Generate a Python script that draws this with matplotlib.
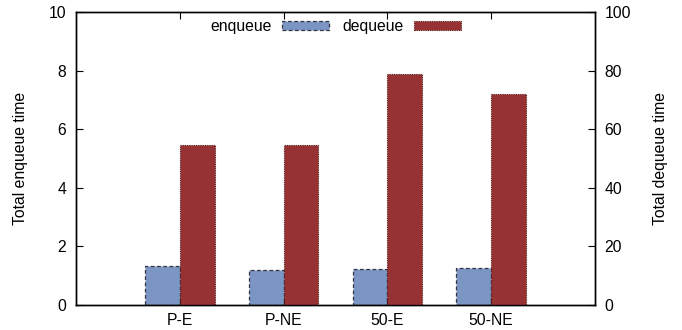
import numpy as np
import matplotlib
matplotlib.use("Agg")
import matplotlib.pyplot as plt

plt.rcParams['font.family'] = ['Liberation Sans', 'DejaVu Sans']
plt.rcParams['font.size'] = 11.3

categories = ["P-E", "P-NE", "50-E", "50-NE"]
enqueue = [1.34, 1.19, 1.22, 1.25]       # left axis
dequeue = [54.6, 54.6, 78.8, 71.9]       # right axis

x = np.arange(len(categories))
w = 0.335

fig = plt.figure(figsize=(6.82, 3.3), dpi=100)
ax = fig.add_axes([0.1114, 0.0758, 0.761, 0.8878])
ax2 = ax.twinx()

b1 = ax.bar(x - w / 2, enqueue, w, color="#7b96c2", edgecolor="#333344",
            linestyle=(0, (3, 2)), linewidth=0.9, label="enqueue")
b2 = ax2.bar(x + w / 2, dequeue, w, color="#963234", edgecolor="#5a1a1a",
             linestyle=(0, (1, 1)), linewidth=0.8, label="dequeue")

ax.set_xlim(-1, 4)
ax.set_ylim(0, 10)
ax2.set_ylim(0, 100)
ax.set_xticks(x)
ax.set_xticklabels(categories)
ax.set_yticks(np.arange(0, 11, 2))
ax2.set_yticks(np.arange(0, 101, 20))

ax.tick_params(axis="x", direction="in", top=True, length=5, pad=6)
ax.tick_params(axis="y", direction="in", length=5, pad=7)
ax2.tick_params(axis="y", direction="in", length=5, pad=7)

ax.set_ylabel("Total enqueue time", labelpad=15)
ax2.set_ylabel("Total dequeue time", labelpad=16)

for a in (ax, ax2):
    for s in a.spines.values():
        s.set_linewidth(1.0)

ax2.legend([b1, b2], ["enqueue", "dequeue"], loc="upper center", ncol=2,
           frameon=False, markerfirst=False, handlelength=3.0, handleheight=0.45,
           columnspacing=0.85, handletextpad=0.65, bbox_to_anchor=(0.5, 1.0),
           borderaxespad=0.05)

fig.savefig("out.png", dpi=100)
